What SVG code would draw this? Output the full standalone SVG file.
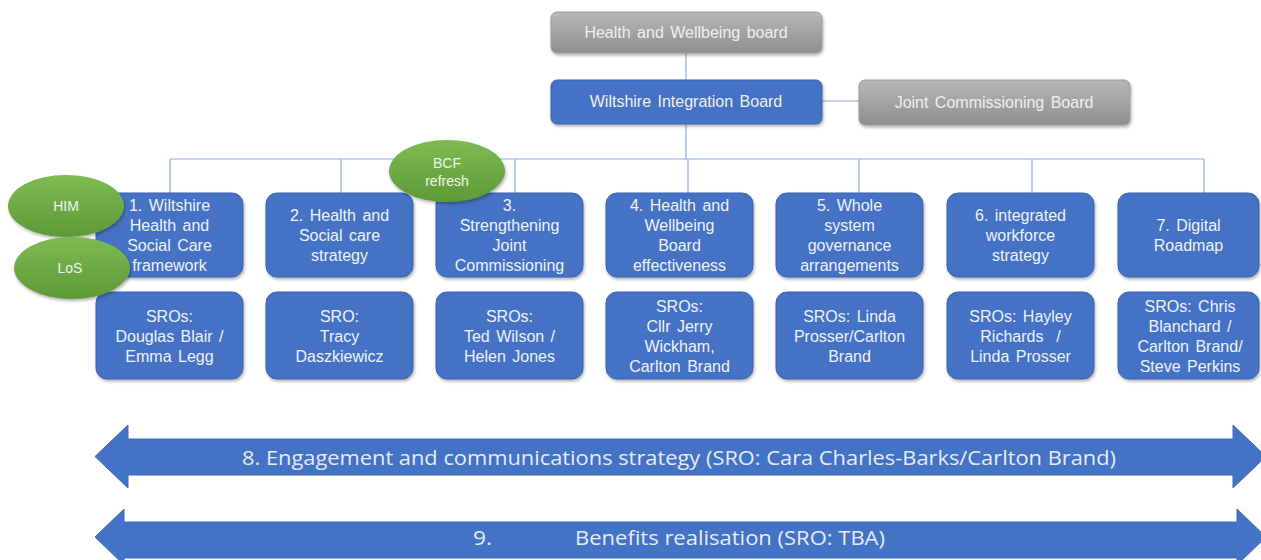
<svg xmlns="http://www.w3.org/2000/svg" width="1261" height="560" viewBox="0 0 1261 560">
<defs>
<linearGradient id="gGray" x1="0" y1="0" x2="0" y2="1">
<stop offset="0" stop-color="#b8b8b8"/>
<stop offset="1" stop-color="#8e8e8e"/>
</linearGradient>
<linearGradient id="gGreen" x1="0" y1="0" x2="0" y2="1">
<stop offset="0" stop-color="#7dbb52"/>
<stop offset="1" stop-color="#5e9a38"/>
</linearGradient>
<filter id="sh" x="-10%" y="-10%" width="125%" height="130%">
<feDropShadow dx="1" dy="2" stdDeviation="1.5" flood-color="#000" flood-opacity="0.3"/>
</filter>
<style>
.box{fill:#4472c4;stroke:#3b64ad;stroke-width:1;filter:url(#sh)}
.gray{fill:url(#gGray);stroke:#9a9a9a;stroke-width:1;filter:url(#sh)}
.green{fill:url(#gGreen);filter:url(#sh)}
.t{font-family:"Liberation Sans",Arial,sans-serif;font-size:16px;fill:#eef2fa;text-anchor:middle;word-spacing:2px}
.tg{font-family:"Liberation Sans",Arial,sans-serif;font-size:16px;fill:#f0f0f0;text-anchor:middle;word-spacing:2px}
.te{font-family:"Liberation Sans",Arial,sans-serif;font-size:14px;fill:#eef5e8;text-anchor:middle}
.ta{font-family:"Open Sans","Liberation Sans",sans-serif;font-size:20px;fill:#e6ecf6}
.con{stroke:#8faadc;stroke-width:1.2;fill:none}
.arrow{fill:#4472c4;stroke:#3f6bb8;stroke-width:1}
</style>
</defs>

<g id="connectors">
<line class="con" x1="686" y1="53" x2="686" y2="80"/>
<line class="con" x1="822" y1="101" x2="859" y2="101"/>
<line class="con" x1="686" y1="124" x2="686" y2="159"/>
<line class="con" x1="170" y1="159" x2="1204" y2="159"/>
<line class="con" x1="170" y1="159" x2="170" y2="193"/>
<line class="con" x1="341" y1="159" x2="341" y2="193"/>
<line class="con" x1="515" y1="159" x2="515" y2="193"/>
<line class="con" x1="688" y1="159" x2="688" y2="193"/>
<line class="con" x1="859" y1="159" x2="859" y2="193"/>
<line class="con" x1="1032" y1="159" x2="1032" y2="193"/>
<line class="con" x1="1204" y1="159" x2="1204" y2="193"/>
</g>

<g id="hwb">
<rect class="gray" x="551" y="12" width="271" height="41" rx="6"/>
<text class="tg" x="686" y="38">Health and Wellbeing board</text>
</g>
<g id="wib">
<rect class="box" x="551" y="80" width="271" height="44" rx="6"/>
<text class="tg" x="686" y="107" fill="#eef2fa">Wiltshire Integration Board</text>
</g>
<g id="jcb">
<rect class="gray" x="859" y="80" width="271" height="45" rx="6"/>
<text class="tg" x="994" y="107.5">Joint Commissioning Board</text>
</g>

<g id="w1">
<rect class="box" x="96" y="193" width="147" height="84" rx="11"/>
<text class="t" x="169.5" y="211">1. Wiltshire</text>
<text class="t" x="169.5" y="231">Health and</text>
<text class="t" x="169.5" y="251">Social Care</text>
<text class="t" x="169.5" y="271">framework</text>
</g>
<g id="w2">
<rect class="box" x="266" y="193" width="147" height="84" rx="11"/>
<text class="t" x="339.5" y="221">2. Health and</text>
<text class="t" x="339.5" y="241">Social care</text>
<text class="t" x="339.5" y="261">strategy</text>
</g>
<g id="w3">
<rect class="box" x="436" y="193" width="147" height="84" rx="11"/>
<text class="t" x="509.5" y="211">3.</text>
<text class="t" x="509.5" y="231">Strengthening</text>
<text class="t" x="509.5" y="251">Joint</text>
<text class="t" x="509.5" y="271">Commissioning</text>
</g>
<g id="w4">
<rect class="box" x="606" y="193" width="147" height="84" rx="11"/>
<text class="t" x="679.5" y="211">4. Health and</text>
<text class="t" x="679.5" y="231">Wellbeing</text>
<text class="t" x="679.5" y="251">Board</text>
<text class="t" x="679.5" y="271">effectiveness</text>
</g>
<g id="w5">
<rect class="box" x="776" y="193" width="147" height="84" rx="11"/>
<text class="t" x="849.5" y="211">5. Whole</text>
<text class="t" x="849.5" y="231">system</text>
<text class="t" x="849.5" y="251">governance</text>
<text class="t" x="849.5" y="271">arrangements</text>
</g>
<g id="w6">
<rect class="box" x="947" y="193" width="147" height="84" rx="11"/>
<text class="t" x="1020.5" y="221">6. integrated</text>
<text class="t" x="1020.5" y="241">workforce</text>
<text class="t" x="1020.5" y="261">strategy</text>
</g>
<g id="w7">
<rect class="box" x="1118" y="193" width="141" height="84" rx="11"/>
<text class="t" x="1188.5" y="231">7. Digital</text>
<text class="t" x="1188.5" y="251">Roadmap</text>
</g>

<g id="s1">
<rect class="box" x="96" y="292" width="147" height="87" rx="11"/>
<text class="t" x="169.5" y="321.5">SROs:</text>
<text class="t" x="169.5" y="341.5">Douglas Blair /</text>
<text class="t" x="169.5" y="361.5">Emma Legg</text>
</g>
<g id="s2">
<rect class="box" x="266" y="292" width="147" height="87" rx="11"/>
<text class="t" x="339.5" y="321.5">SRO:</text>
<text class="t" x="339.5" y="341.5">Tracy</text>
<text class="t" x="339.5" y="361.5">Daszkiewicz</text>
</g>
<g id="s3">
<rect class="box" x="436" y="292" width="147" height="87" rx="11"/>
<text class="t" x="509.5" y="321.5">SROs:</text>
<text class="t" x="509.5" y="341.5">Ted Wilson /</text>
<text class="t" x="509.5" y="361.5">Helen Jones</text>
</g>
<g id="s4">
<rect class="box" x="606" y="292" width="147" height="87" rx="11"/>
<text class="t" x="679.5" y="311.5">SROs:</text>
<text class="t" x="679.5" y="331.5">Cllr Jerry</text>
<text class="t" x="679.5" y="351.5">Wickham,</text>
<text class="t" x="679.5" y="371.5">Carlton Brand</text>
</g>
<g id="s5">
<rect class="box" x="776" y="292" width="147" height="87" rx="11"/>
<text class="t" x="849.5" y="321.5">SROs: Linda</text>
<text class="t" x="849.5" y="341.5">Prosser/Carlton</text>
<text class="t" x="849.5" y="361.5">Brand</text>
</g>
<g id="s6">
<rect class="box" x="947" y="292" width="147" height="87" rx="11"/>
<text class="t" x="1020.5" y="321.5">SROs: Hayley</text>
<text class="t" x="1020.5" y="341.5" xml:space="preserve">Richards  /</text>
<text class="t" x="1020.5" y="361.5">Linda Prosser</text>
</g>
<g id="s7">
<rect class="box" x="1118" y="292" width="141" height="87" rx="11"/>
<text class="t" x="1190" y="311.5">SROs: Chris</text>
<text class="t" x="1190" y="331.5">Blanchard /</text>
<text class="t" x="1190" y="351.5">Carlton Brand/</text>
<text class="t" x="1190" y="371.5">Steve Perkins</text>
</g>

<g id="him">
<ellipse class="green" cx="66" cy="206" rx="58" ry="31"/>
<text class="te" x="66" y="211">HIM</text>
</g>
<g id="los">
<ellipse class="green" cx="72" cy="268" rx="58" ry="31"/>
<text class="te" x="70" y="273">LoS</text>
</g>
<g id="bcf">
<ellipse class="green" cx="447" cy="171" rx="58" ry="31"/>
<text class="te" x="447" y="168">BCF</text>
<text class="te" x="447" y="186">refresh</text>
</g>

<g id="arrow8">
<polygon class="arrow" points="95,456.5 128,425 128,439 1233,439 1233,425 1266,456.5 1233,488 1233,475 128,475 128,488"/>
<text class="ta" x="242" y="464.5" textLength="874" lengthAdjust="spacingAndGlyphs">8. Engagement and communications strategy (SRO: Cara Charles-Barks/Carlton Brand)</text>
</g>
<g id="arrow9">
<polygon class="arrow" points="95,537 124,509 124,522 1237,522 1237,509 1266,537 1237,565 1237,558 124,558 124,565"/>
<text class="ta" x="473" y="545" textLength="19" lengthAdjust="spacingAndGlyphs">9.</text>
<text class="ta" x="575" y="545" textLength="310" lengthAdjust="spacingAndGlyphs">Benefits realisation (SRO: TBA)</text>
</g>
</svg>
